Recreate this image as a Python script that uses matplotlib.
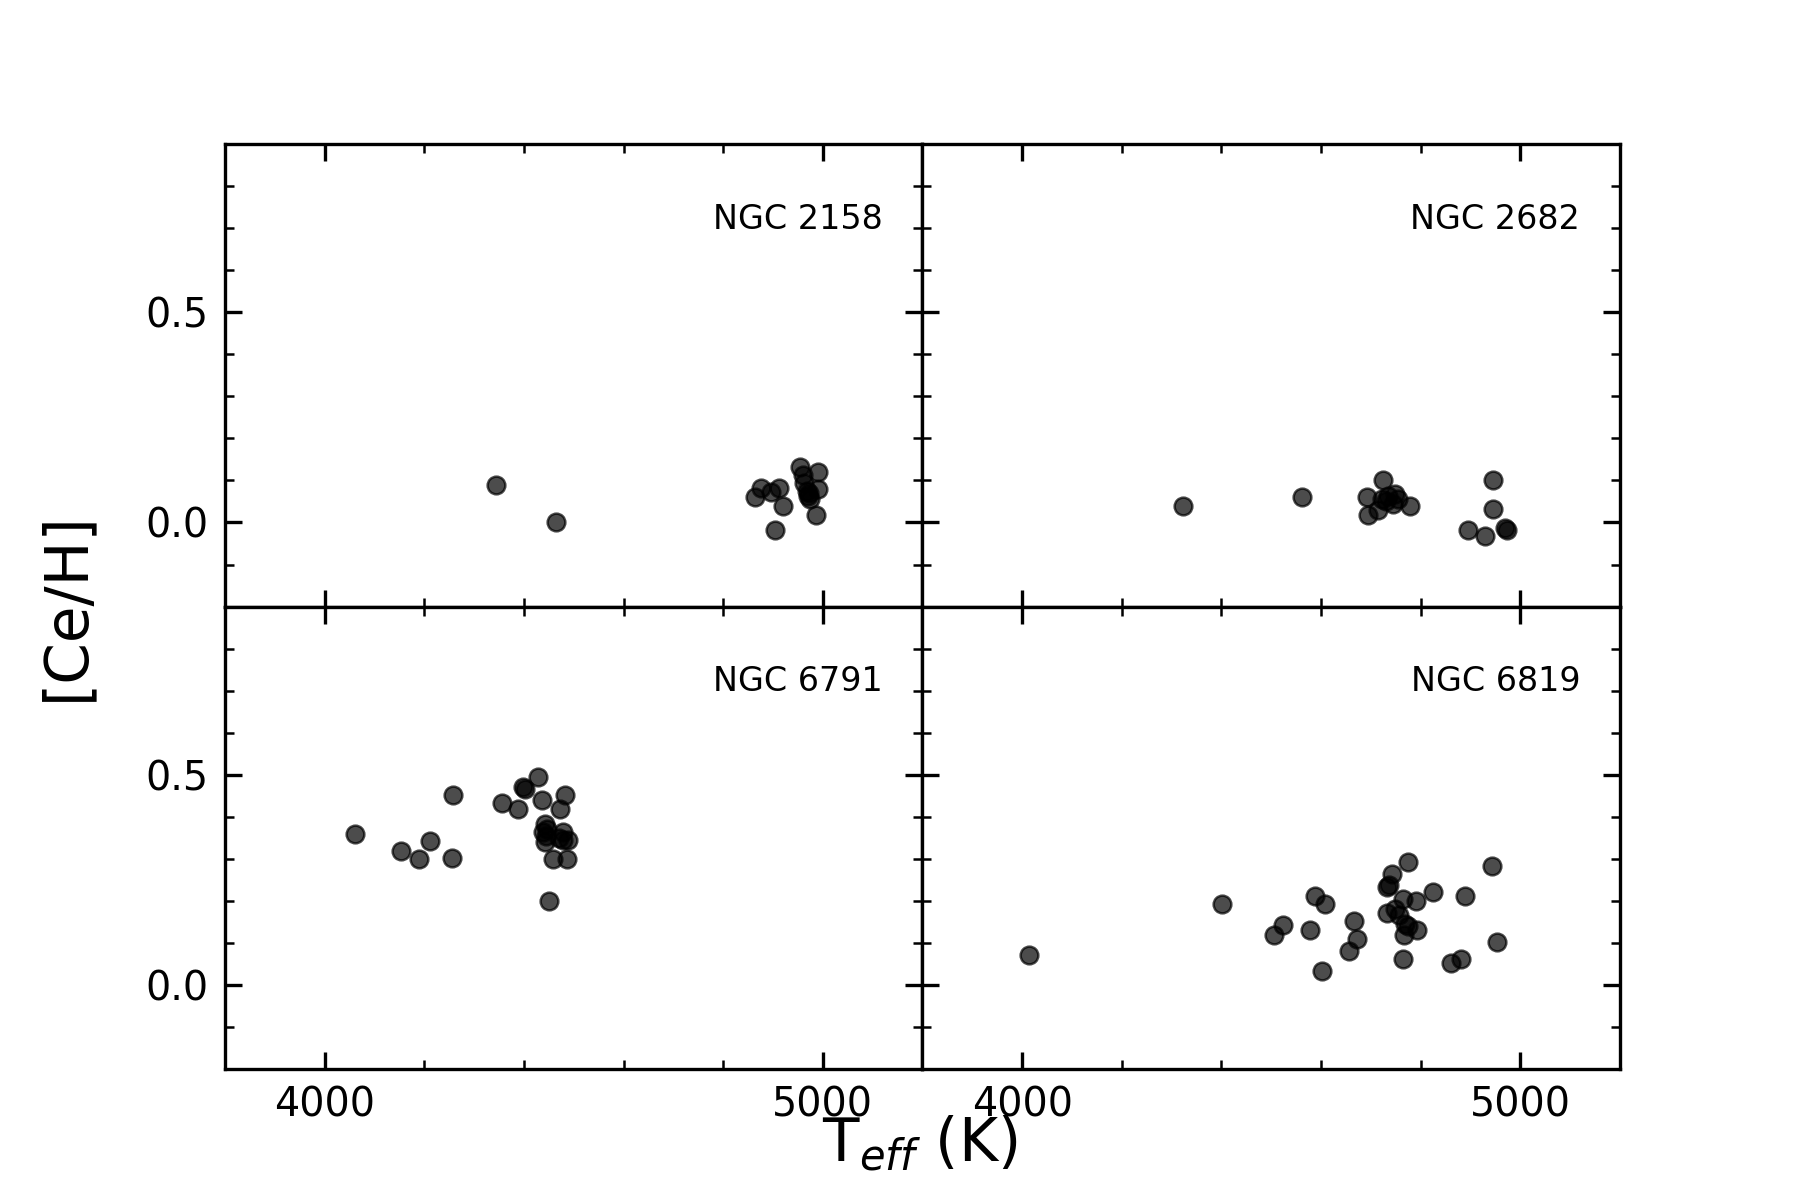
import matplotlib
matplotlib.use("Agg")
import matplotlib.pyplot as plt
from matplotlib.ticker import MultipleLocator

clusters = ["NGC 2158", "NGC 2682", "NGC 6791", "NGC 6819"]

teff_2158 = [4343, 4464, 4863, 4876, 4896, 4912, 4920, 4903, 4955, 4960, 4963,
             4968, 4970, 4973, 4975, 4990, 4990, 4987]
ceh_2158 = [0.090, 0.000, 0.060, 0.083, 0.072, 0.083, 0.040, -0.019, 0.132, 0.112, 0.093,
            0.075, 0.062, 0.069, 0.057, 0.120, 0.080, 0.019]

teff_2682 = [4323, 4561, 4725, 4692, 4695, 4715, 4722, 4735, 4748, 4755, 4745, 4730,
             4778, 4946, 4946, 4894, 4929, 4969, 4973]
ceh_2682 = [0.040, 0.060, 0.102, 0.060, 0.019, 0.029, 0.056, 0.064, 0.068, 0.056, 0.045, 0.050,
            0.040, 0.100, 0.031, -0.019, -0.031, -0.013, -0.017]

teff_6791 = [4061, 4154, 4190, 4211, 4256, 4258, 4356, 4389, 4399, 4402, 4429, 4436,
             4482, 4472, 4442, 4439, 4447, 4442, 4478, 4478, 4489, 4458, 4486, 4451,
             4445, 4470]
ceh_6791 = [0.360, 0.320, 0.300, 0.342, 0.302, 0.451, 0.434, 0.419, 0.470, 0.467, 0.494, 0.441,
            0.453, 0.419, 0.384, 0.364, 0.370, 0.340, 0.364, 0.345, 0.344, 0.300, 0.300, 0.201,
            0.355, 0.350]

teff_6819 = [4013, 4401, 4505, 4523, 4587, 4607, 4578, 4602, 4667, 4672, 4657, 4775,
             4743, 4732, 4737, 4764, 4790, 4824, 4732, 4748, 4756, 4769, 4775, 4792,
             4767, 4764, 4888, 4943, 4954, 4880, 4861]
ceh_6819 = [0.071, 0.192, 0.120, 0.142, 0.212, 0.192, 0.132, 0.034, 0.152, 0.109, 0.081, 0.292,
            0.263, 0.233, 0.237, 0.205, 0.201, 0.221, 0.171, 0.182, 0.166, 0.146, 0.140, 0.132,
            0.120, 0.063, 0.211, 0.282, 0.102, 0.063, 0.053]

x_ticks = [4000, 5000]
y_ticks = [0.0, 0.5]

data = [(teff_2158, ceh_2158), (teff_2682, ceh_2682),
        (teff_6791, ceh_6791), (teff_6819, ceh_6819)]

fig, axes = plt.subplots(2, 2, figsize=(6, 4), dpi=300, sharex=True, sharey=True)
fig.subplots_adjust(left=0.125, right=0.9, bottom=0.109, top=0.88, wspace=0, hspace=0)

for ax, name, (tx, cy) in zip(axes.flat, clusters, data):
    ax.scatter(tx, cy, s=18, c='k', alpha=0.7, edgecolors='k', linewidths=0.6, zorder=3)
    ax.set_xlim(3800, 5200)
    ax.set_ylim(-0.2, 0.9)
    ax.set_xticks(x_ticks)
    ax.set_yticks(y_ticks)
    ax.xaxis.set_minor_locator(MultipleLocator(200))
    ax.yaxis.set_minor_locator(MultipleLocator(0.1))
    ax.yaxis.set_major_formatter(matplotlib.ticker.FormatStrFormatter('%.1f'))
    ax.tick_params(which='both', direction='in', top=True, right=True, labelsize=9.5)
    ax.tick_params(which='major', length=4, width=0.8, pad=4)
    ax.tick_params(which='minor', length=2.2, width=0.6)
    ax.text(0.943, 0.817, name, transform=ax.transAxes, ha='right', va='baseline', fontsize=8)

fig.text(0.511, 0.046, r'T$_{eff}$ (K)', ha='center', va='center', fontsize=14.3)
fig.text(0.037, 0.495, '[Ce/H]', ha='center', va='center', rotation=90, fontsize=14.3)

fig.savefig('out.png', dpi=300)
